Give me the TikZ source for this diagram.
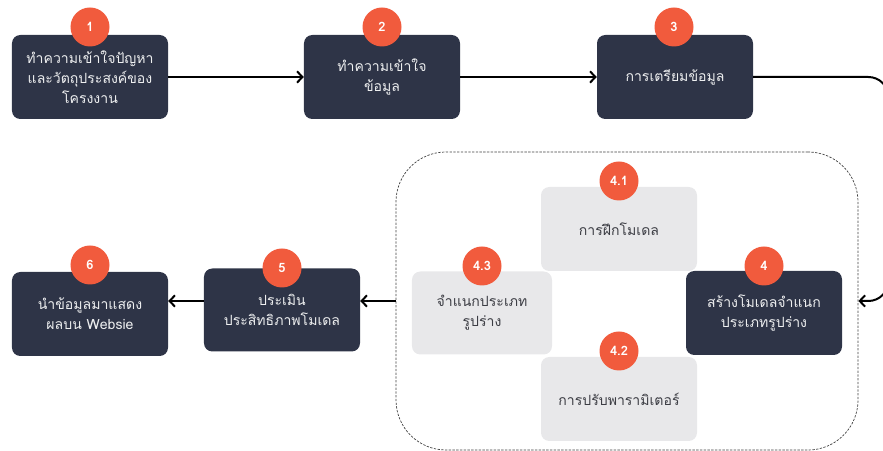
\documentclass[tikz,border=0pt]{standalone}
\usepackage{fontspec}
\newfontfamily\thaifont[Script=Thai]{Loma}
\usetikzlibrary{arrows.meta, calc}

\definecolor{stepdark}{HTML}{2E3447}
\definecolor{steporange}{HTML}{F15B3D}
\definecolor{steplight}{HTML}{E8E8EA}
\definecolor{steptext}{HTML}{3C3D44}

\begin{document}
\begin{tikzpicture}[x = 0.03cm, y = 0.03cm,
		darkbox/.style = {rectangle, rounded corners = 0.25cm, fill = stepdark, text = white!92!stepdark, align = center,
			font = \thaifont\fontsize{12}{17}\selectfont, minimum width = 4.68cm, minimum height = 2.52cm, inner sep = 0pt},
		lightbox/.style = {darkbox, fill = steplight, text = steptext},
		badge/.style = {circle, fill = steporange, text = white, font = \thaifont\bfseries\fontsize{11}{13}\selectfont,
			minimum size = 1.17cm, inner sep = 0pt},
		dashbox/.style = {rectangle, draw = black!75, line width = 0.6pt, dash pattern = on 2pt off 1.2pt,
			rounded corners = 1.5cm, minimum width = 13.86cm, minimum height = 8.94cm},
		flow/.style = {line width = 1.7pt, -{Straight Barb[length = 1.6mm, width = 3.4mm, line width = 1.7pt]}}]

			\useasboundingbox (0,0) rectangle (883,451);

			\node [dashbox] (group) at (627,150) {};

			\begin{scope}
				\node [darkbox] (s1) at (90,374) {ทำความเข้าใจปัญหา\\และวัตถุประสงค์ของ\\โครงงาน};
				\node [darkbox] (s2) at (382,374) {ทำความเข้าใจ\\ข้อมูล};
				\node [darkbox] (s3) at (675,374) {การเตรียมข้อมูล};
				\node [darkbox] (s4) at (764,138) {สร้างโมเดลจำแนก\\ประเภทรูปร่าง};
				\node [darkbox, minimum height = 2.49cm] (s5) at (282,141) {ประเมิน\\ประสิทธิภาพโมเดล};
				\node [darkbox] (s6) at (90,137) {นำข้อมูลมาแสดง\\ผลบน Websie};
			\end{scope}

			\begin{scope}
				\node [lightbox] (s41) at (619,222) {การฝึกโมเดล};
				\node [lightbox] (s42) at (619,52) {การปรับพารามิเตอร์};
				\node [lightbox, minimum width = 4.2cm, minimum height = 2.49cm] (s43) at (482,138) {จำแนกประเภท\\รูปร่าง};
			\end{scope}

			\foreach \name/\num/\x/\y in {b1/1/90/424, b2/2/382/424, b3/3/674/424, b4/4/764/185,
				b41/4.1/619/270, b42/4.2/619/100, b43/4.3/482/185, b5/5/282/183, b6/6/90/186}
			{
				\node [badge] (\name) at (\x,\y) {\num};
			}

			\coordinate (bend) at ($(group.east)+(30,0)$);

			\begin{scope}
				\draw [flow] (s1) -- (s2);
				\draw [flow] (s2) -- (s3);
				\draw [flow, rounded corners = 0.6cm] (s3.east) -| (bend) -- (group.east);
				\draw [flow] (group.west) -- (s5.east |- group.west);
				\draw [flow] (s5.west |- group.west) -- (s6.east |- group.west);
			\end{scope}
		\end{tikzpicture}
\end{document}
